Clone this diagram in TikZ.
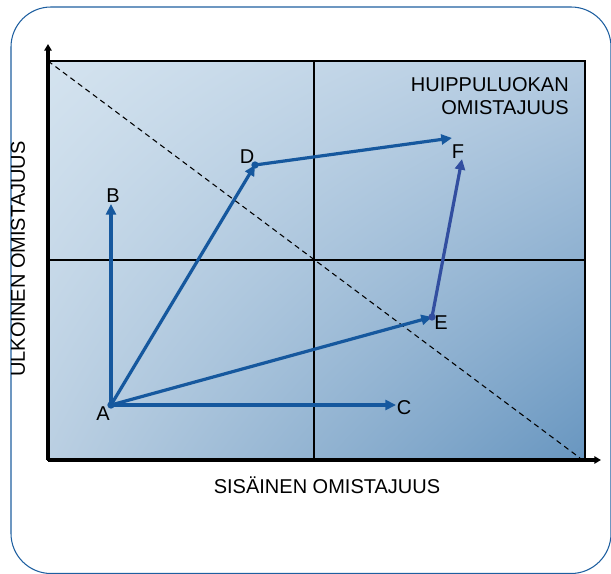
\documentclass[tikz,border=0pt]{standalone}
\usepackage{fontspec}
\setmainfont{Liberation Sans}
\usetikzlibrary{arrows.meta,shadings}
\definecolor{frameblue}{RGB}{30,95,160}
\definecolor{arrowblue}{RGB}{22,88,158}
\definecolor{arrowviolet}{RGB}{50,78,160}
\definecolor{fillA}{RGB}{212,227,239}
\definecolor{fillB}{RGB}{180,203,225}
\definecolor{fillC}{RGB}{186,207,226}
\definecolor{fillD}{RGB}{104,150,192}

\begin{document}
\begin{tikzpicture}[x=0.75pt,y=0.75pt,yscale=-1,xscale=1,
  lbl/.style={inner sep=0.75pt,font=\fontsize{15}{17.5}\selectfont},
  move/.style={draw=arrowblue,line width=2.4pt,-{Triangle[length=8pt,width=7.5pt]}},
  pt/.style={circle,fill=arrowblue,inner sep=0pt,minimum size=5.5pt},
  axis/.style={line width=2.3pt,-{Triangle[length=5pt,width=5.5pt]}}]
\useasboundingbox (0,0) rectangle (611,574);

%Rounded frame
\draw [color=frameblue,line width=0.8pt,rounded corners=30pt] (11,7) rectangle (611,573.5) ;

%Shaded plot area
\shade [upper left=fillA,upper right=fillB,lower left=fillC,lower right=fillD] (48,61) rectangle (585,460) ;
\draw [line width=1.5pt] (48,61) rectangle (585,460) ;
\draw [line width=1.5pt] (314,61) -- (314,460) ;
\draw [line width=1.5pt] (48,260) -- (585,260) ;

%Axes
\coordinate (O) at (48,460) ;
\coordinate (ytip) at (48,44) ;
\coordinate (xtip) at (601,460) ;
\draw [axis] (O) -- (ytip) ;
\draw [axis] (O) -- (xtip) ;

%Dashed diagonal
\coordinate (dg1) at (48,61) ;
\coordinate (dg2) at (580,458) ;
\draw [dashed,line width=0.8pt,dash pattern=on 4pt off 3pt] (dg1) -- (dg2) ;

%Positions
\coordinate (A) at (111,405) ;
\coordinate (B) at (111,204) ;
\coordinate (C) at (396,405) ;
\coordinate (D) at (255,165) ;
\coordinate (F) at (452,138) ;
\coordinate (E) at (432,317) ;
\coordinate (F2) at (462,159) ;

%Moves
\draw [move] (A) -- (B) ;
\draw [move] (A) -- (C) ;
\draw [move] (A) -- (D) ;
\draw [move] (A) -- (E) ;
\draw [move] (D) -- (F) ;
\draw [move,draw=arrowviolet,color=arrowviolet] (E) -- (F2) ;
\node [pt] at (A) {} ;
\node [pt] at (D) {} ;
\node [pt,fill=arrowviolet] at (E) {} ;

% Text Node
\node [lbl] (lA) at (103,414) {A} ;
% Text Node
\node [lbl] (lB) at (113,196) {B} ;
% Text Node
\node [lbl] (lC) at (404,408) {C} ;
% Text Node
\node [lbl] (lD) at (247,157) {D} ;
% Text Node
\node [lbl] (lE) at (441,323) {E} ;
% Text Node
\node [lbl] (lF) at (458,152) {F} ;
% Text Node
\node [lbl,anchor=north east,align=right] (top) at (570,76) {HUIPPULUOKAN\\OMISTAJUUS} ;
% Text Node
\node [lbl] (xlab) at (327,485) {SIS\"AINEN OMISTAJUUS} ;
% Text Node
\node [lbl,rotate=90] (ylab) at (18,259) {ULKOINEN OMISTAJUUS} ;

\end{tikzpicture}
\end{document}
